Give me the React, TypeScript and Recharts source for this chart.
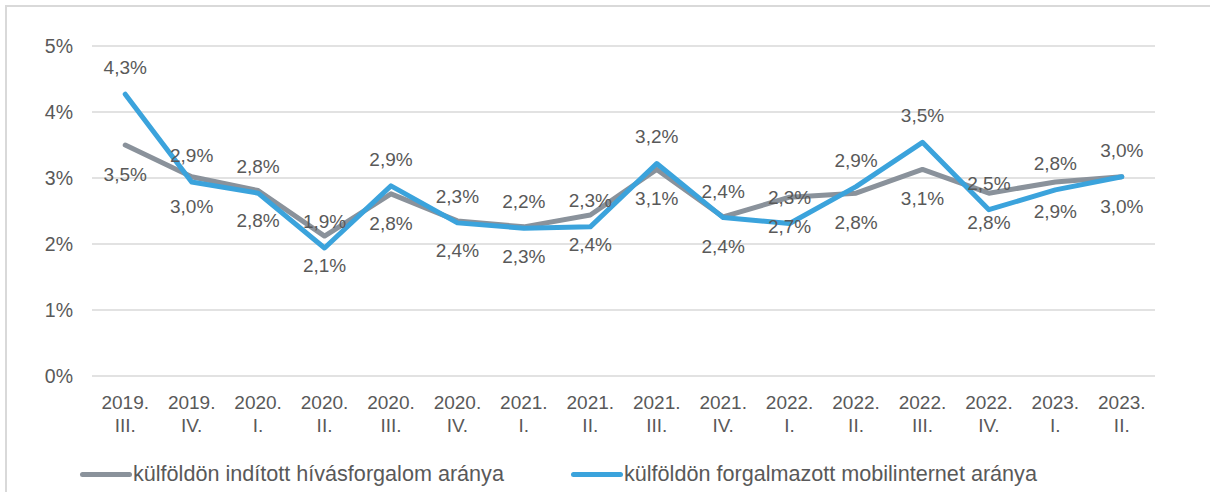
import { LineChart, Line, XAxis, YAxis, CartesianGrid, Legend, LabelList } from "recharts";

const quarters = [
  "2019. III.", "2019. IV.", "2020. I.", "2020. II.", "2020. III.", "2020. IV.",
  "2021. I.", "2021. II.", "2021. III.", "2021. IV.", "2022. I.", "2022. II.",
  "2022. III.", "2022. IV.", "2023. I.", "2023. II.",
];

// külföldön indított hívásforgalom aránya (%)
const callShare = [3.5, 3.02, 2.81, 2.12, 2.76, 2.35, 2.26, 2.44, 3.13, 2.41, 2.71, 2.77, 3.13, 2.77, 2.94, 3.02];
// külföldön forgalmazott mobilinternet aránya (%)
const dataShare = [4.27, 2.94, 2.77, 1.94, 2.88, 2.32, 2.24, 2.26, 3.22, 2.4, 2.31, 2.87, 3.54, 2.52, 2.82, 3.02];

const yTicks = [0, 1, 2, 3, 4, 5];
const boundaryTicks = quarters.map((_, i) => i).concat(quarters.length);

const seriesNames = ["külföldön indított hívásforgalom aránya", "külföldön forgalmazott mobilinternet aránya"];

const GRAY = "#8a929b";
const BLUE = "#3ba3dc";
const TEXT = "#595959";
const GRID = "#d9d9d9";
const FONT = "Arial, 'Liberation Sans', sans-serif";

const PLOT_W = 1063;
const HALF_BAND = PLOT_W / quarters.length / 2;

const data = quarters.map((q, i) => ({ q, call: callShare[i], net: dataShare[i] }));

const fmt = (v: number) => `${v.toFixed(1).replace(".", ",")}%`;

function QuarterTick(props: any) {
  const { x, y, payload } = props;
  const [year, quarter] = String(payload.value).split(" ");
  return (
    <text x={x} y={y} textAnchor="middle" fill={TEXT} fontSize={19} fontFamily={FONT}>
      <tspan x={x} dy={33}>{year}</tspan>
      <tspan x={x} dy={23}>{quarter}</tspan>
    </text>
  );
}

function labelAbove(props: any) {
  const { x, y, value } = props;
  return (
    <text x={x} y={y - 20} textAnchor="middle" fill={TEXT} fontSize={19} fontFamily={FONT}>
      {fmt(Number(value))}
    </text>
  );
}

function labelBelow(props: any) {
  const { x, y, value } = props;
  return (
    <text x={x} y={y + 36} textAnchor="middle" fill={TEXT} fontSize={19} fontFamily={FONT}>
      {fmt(Number(value))}
    </text>
  );
}

function LegendBox() {
  const items = [
    { name: seriesNames[0], color: GRAY, left: 80 },
    { name: seriesNames[1], color: BLUE, left: 571 },
  ];
  return (
    <div style={{ position: "relative", height: 32, fontFamily: FONT, fontSize: 21.6, color: TEXT }}>
      {items.map((it) => (
        <div key={it.name} style={{ position: "absolute", left: it.left, top: 0, height: 32, display: "flex", alignItems: "center", whiteSpace: "nowrap" }}>
          <span style={{ display: "inline-block", width: 52, height: 5, borderRadius: 3, background: it.color, marginRight: 1 }} />
          <span>{it.name}</span>
        </div>
      ))}
    </div>
  );
}

export default function App() {
  return (
    <div style={{ position: "absolute", left: 0, top: 0, width: 1210, height: 492, background: "#fff", overflow: "hidden" }}>
      <div style={{ position: "absolute", left: 5, top: 5, width: 1210, height: 492, borderTop: `2px solid ${GRID}`, borderLeft: `2px solid ${GRID}` }} />
      <LineChart width={1210} height={492} data={data} margin={{ top: 46, right: 55, bottom: 2, left: 0 }}>
        <CartesianGrid horizontal vertical={false} stroke={GRID} strokeWidth={1.5} />
        <XAxis
          xAxisId="bounds"
          type="number"
          domain={[0, quarters.length]}
          ticks={boundaryTicks}
          height={0}
          tick={false}
          stroke={GRID}
          strokeWidth={1.5}
          tickSize={6}
          interval={0}
        />
        <XAxis
          dataKey="q"
          height={82}
          axisLine={false}
          tickLine={false}
          tickSize={0}
          tickMargin={0}
          interval={0}
          padding={{ left: HALF_BAND, right: HALF_BAND }}
          tick={<QuarterTick />}
        />
        <YAxis
          domain={[0, 5]}
          ticks={yTicks}
          width={92}
          axisLine={false}
          tickLine={false}
          tickSize={0}
          tickMargin={19}
          tickFormatter={(v: number) => `${v}%`}
          tick={{ fill: TEXT, fontSize: 19.5, fontFamily: FONT }}
        />
        <Legend verticalAlign="bottom" content={() => <LegendBox />} />
        <Line
          dataKey="call"
          name={seriesNames[0]}
          stroke={GRAY}
          strokeWidth={5}
          strokeLinecap="round"
          strokeLinejoin="round"
          dot={false}
          activeDot={false}
          isAnimationActive={false}
        >
          <LabelList dataKey="call" content={labelBelow} />
        </Line>
        <Line
          dataKey="net"
          name={seriesNames[1]}
          stroke={BLUE}
          strokeWidth={5}
          strokeLinecap="round"
          strokeLinejoin="round"
          dot={false}
          activeDot={false}
          isAnimationActive={false}
        >
          <LabelList dataKey="net" content={labelAbove} />
        </Line>
      </LineChart>
    </div>
  );
}
